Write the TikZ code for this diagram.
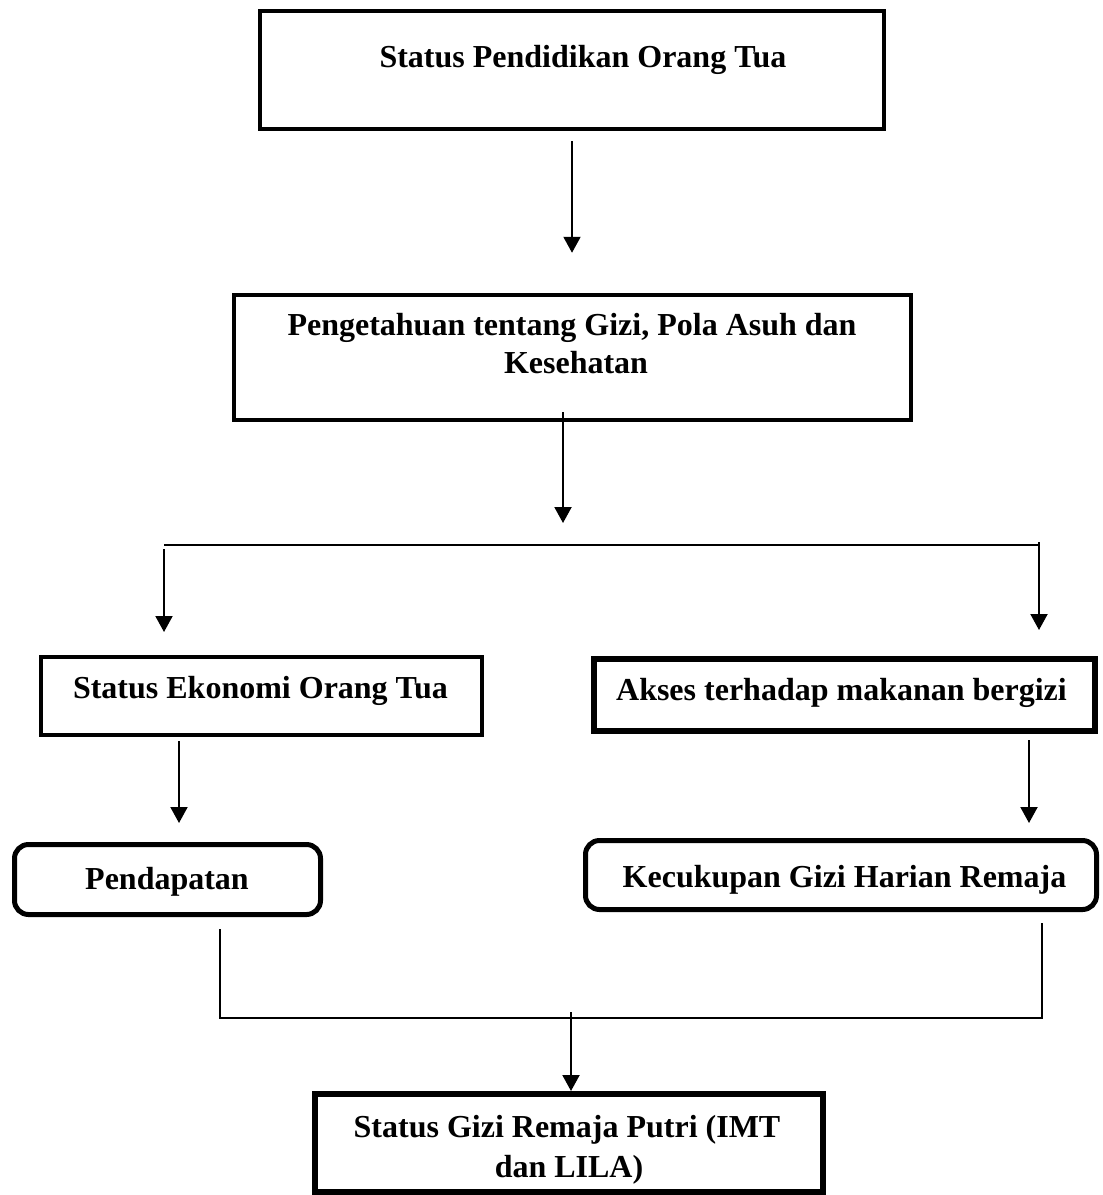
\documentclass[tikz,border=0pt]{standalone}
\usepackage{fontspec}
\setmainfont{Liberation Serif}
\usetikzlibrary{arrows.meta,calc}
\begin{document}
\begin{tikzpicture}[x=1pt,y=-1pt,
  box/.style={draw,rectangle,inner sep=0pt},
  rbox/.style={draw,rectangle,rounded corners=14pt,inner sep=0pt,line width=5pt},
  txt/.style={anchor=base,inner sep=0pt,font=\fontsize{32}{38}\selectfont\bfseries},
  arr/.style={line width=2pt,-{Triangle[width=17pt,length=16pt]}},
  ln/.style={line width=2pt}]
\useasboundingbox[fill=white] (0,0) rectangle (1103,1195);

% boxes
\node[box,line width=4pt,minimum width=624pt,minimum height=118pt] (b1) at (572,70) {};
\node[box,line width=4.5pt,minimum width=677pt,minimum height=125pt] (b2) at (572.5,357.5) {};
\node[box,line width=4pt,minimum width=441pt,minimum height=78pt] (b3) at (261.5,696) {};
\node[box,line width=6pt,minimum width=501pt,minimum height=72pt] (b4) at (844.5,695) {};
\node[rbox,minimum width=306pt,minimum height=70pt] (b5) at (167.5,879.5) {};
\node[rbox,minimum width=511pt,minimum height=69pt] (b6) at (841,875) {};
\node[box,line width=6pt,minimum width=508pt,minimum height=98pt] (b7) at (569,1143) {};

% texts
\node[txt] (t1) at (583,67) {Status Pendidikan Orang Tua};
\node[txt] (t2a) at (572,335) {Pengetahuan tentang Gizi, Pola Asuh dan};
\node[txt] (t2b) at (576,373) {Kesehatan};
\node[txt] (t3) at (260.5,698) {Status Ekonomi Orang Tua};
\node[txt] (t4) at (841.5,700) {Akses terhadap makanan bergizi};
\node[txt] (t5) at (167,889) {Pendapatan};
\node[txt] (t6) at (844.5,887) {Kecukupan Gizi Harian Remaja};
\node[txt] (t7a) at (567,1137) {Status Gizi Remaja Putri (IMT};
\node[txt] (t7b) at (569,1177) {dan LILA)};

% junction coordinates
\coordinate (j1) at (563,545);
\coordinate (hl) at (164,545);
\coordinate (hr) at (1039,545);
\coordinate (bl) at (220,1018);
\coordinate (br) at (1042,1018);

% connectors
\draw[arr] ($(b1.south)+(0,10)$) -- ($(b2.north)+(-0.5,-40)$);
\draw[arr] ($(b2.south)+(-9.5,-10)$) -- ($(j1)+(0,-22)$);
\draw[ln] (hl) -- (hr);
\draw[arr] ($(hl)+(0,4)$) -- ($(hl |- b3.north)+(0,-23)$);
\draw[arr] ($(hr)+(0,-3)$) -- ($(hr |- b4.north)+(0,-26)$);
\draw[arr] ($(b3.south)+(-82.5,4)$) -- ($(b5.north)+(11.5,-19)$);
\draw[arr] ($(b4.south)+(184.5,6)$) -- ($(b6.north)+(188,-15)$);
\draw[ln] ($(b5.south)+(52.5,12)$) -- (bl) -- (br) -- ($(b6.south)+(201,11)$);
\draw[arr] ($(b7.north)+(2,-79)$) -- ($(b7.north)+(2,0)$);
\end{tikzpicture}
\end{document}
